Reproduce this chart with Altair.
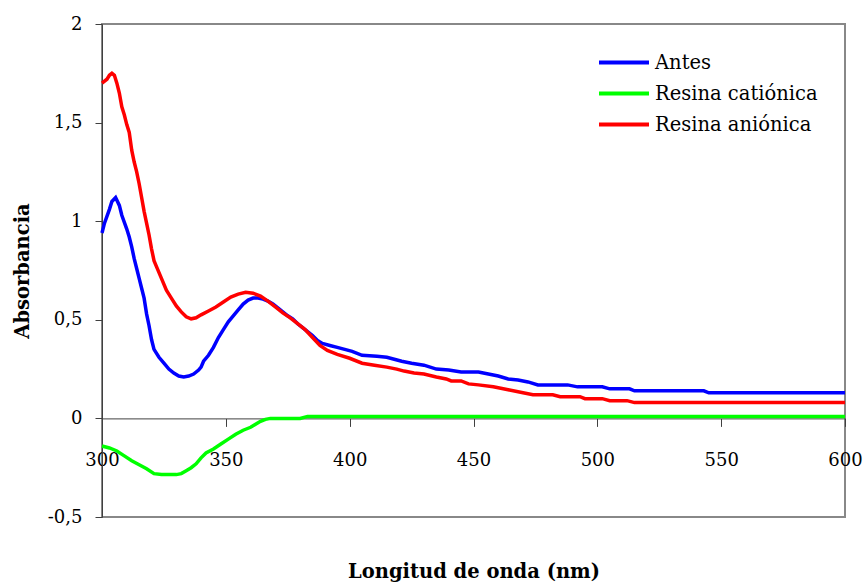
import altair as alt
import pandas as pd

# ---- data ----
antes_x = [300, 301, 303, 304, 305.5, 307, 308, 310, 311, 312, 313, 314, 315, 316, 317, 318, 319, 320, 321,
           323, 325, 327, 329, 331, 333, 335, 337, 339, 340, 341, 343, 345, 347, 349, 351, 353, 355, 357,
           359, 361, 363, 365, 367, 369, 371, 373, 375, 377, 379, 381, 383, 385, 387, 389, 392, 395, 398,
           401, 405, 411, 415, 418, 421, 425, 430, 435, 440, 445, 452, 456, 460, 464, 468, 472, 476, 480,
           488, 492, 502, 505, 513, 515, 543, 545, 600]
antes_y = [0.94, 0.99, 1.06, 1.10, 1.12, 1.08, 1.03, 0.96, 0.92, 0.87, 0.81, 0.76, 0.71, 0.66, 0.61, 0.53, 0.47,
           0.40, 0.35, 0.31, 0.28, 0.25, 0.23, 0.215, 0.21, 0.215, 0.225, 0.245, 0.26, 0.29, 0.32, 0.36,
           0.41, 0.45, 0.49, 0.52, 0.55, 0.58, 0.60, 0.61, 0.61, 0.605, 0.595, 0.58, 0.56, 0.54, 0.52,
           0.505, 0.48, 0.46, 0.44, 0.42, 0.395, 0.38, 0.37, 0.36, 0.35, 0.34, 0.32, 0.315, 0.31, 0.30,
           0.29, 0.28, 0.27, 0.25, 0.245, 0.235, 0.235, 0.225, 0.215, 0.20, 0.195, 0.185, 0.17, 0.17,
           0.17, 0.16, 0.16, 0.15, 0.15, 0.14, 0.14, 0.13, 0.13]

cat_x = [300, 303, 306, 309, 312, 315, 318, 321, 324, 330, 332, 334, 336, 338, 340, 342, 345, 348, 351, 354,
         357, 360, 362, 364, 366, 368, 380, 383, 600]
cat_y = [-0.14, -0.15, -0.165, -0.19, -0.215, -0.235, -0.255, -0.28, -0.285, -0.285, -0.28, -0.265, -0.25,
         -0.23, -0.20, -0.175, -0.155, -0.13, -0.105, -0.08, -0.06, -0.045, -0.03, -0.015, -0.005, 0.0, 0.0,
         0.01, 0.01]

an_x = [300, 302, 303, 304, 305, 306, 307, 308, 309, 310, 311, 312, 313, 314, 315, 316, 317, 318, 319, 320,
        321, 322, 324, 326, 328, 330, 332, 334, 336, 338, 340, 343, 346, 349, 352, 355, 358, 361, 364, 367,
        370, 373, 376, 379, 382, 385, 388, 391, 395, 400, 405, 410, 415, 419, 422, 426, 430, 435, 439, 441,
        445, 448, 452, 458, 464, 470, 474, 482, 485, 493, 495, 502, 505, 512, 515, 600]
an_y = [1.70, 1.72, 1.74, 1.75, 1.74, 1.70, 1.65, 1.58, 1.54, 1.49, 1.45, 1.36, 1.30, 1.25, 1.19, 1.12, 1.05,
        0.99, 0.93, 0.86, 0.80, 0.77, 0.71, 0.65, 0.61, 0.57, 0.54, 0.515, 0.505, 0.51, 0.525, 0.545, 0.565,
        0.59, 0.615, 0.63, 0.64, 0.635, 0.62, 0.595, 0.565, 0.535, 0.51, 0.48, 0.45, 0.41, 0.37, 0.345,
        0.325, 0.305, 0.28, 0.27, 0.26, 0.25, 0.24, 0.23, 0.225, 0.21, 0.20, 0.19, 0.19, 0.175, 0.17, 0.16,
        0.145, 0.13, 0.12, 0.12, 0.11, 0.11, 0.10, 0.10, 0.09, 0.09, 0.08, 0.08]

series = ["Antes", "Resina catiónica", "Resina aniónica"]
colors = ["#0000FF", "#00FF00", "#FF0000"]
x_ticks = [300, 350, 400, 450, 500, 550, 600]
y_ticks = [-0.5, 0, 0.5, 1, 1.5, 2]

rows = []
for name, xs, ys in [(series[0], antes_x, antes_y), (series[1], cat_x, cat_y), (series[2], an_x, an_y)]:
    for i, (a, b) in enumerate(zip(xs, ys)):
        rows.append({"serie": name, "nm": a, "abs": b, "i": i})
df = pd.DataFrame(rows)

W, H = 743, 493
FONT = "DejaVu Serif"
AXC = "#404040"
zero_offset = -H * 0.5 / 2.5

comma = "datum.value < 0 ? '-' + replace(toString(-datum.value), '.', ',') : replace(toString(datum.value), '.', ',')"

chart = alt.Chart(df).mark_line(strokeWidth=3.5).encode(
    x=alt.X("nm:Q",
            scale=alt.Scale(domain=[300, 600], nice=False, zero=False),
            axis=alt.Axis(values=x_ticks, offset=zero_offset, tickSize=8, tickColor=AXC,
                          domainColor=AXC, labelPadding=25, labelFont=FONT, labelFontSize=18,
                          labelColor="black", grid=False, labelFlush=False,
                          title="Longitud de onda (nm)", titleFont=FONT, titleFontSize=19.5,
                          titleFontWeight="bold", titleColor="black", titleY=153,
                          titleBaseline="middle")),
    y=alt.Y("abs:Q",
            scale=alt.Scale(domain=[-0.5, 2], nice=False, zero=False),
            axis=alt.Axis(values=y_ticks, tickSize=7, tickColor=AXC, domainColor=AXC,
                          labelPadding=13, labelFont=FONT, labelFontSize=18, labelColor="black",
                          labelExpr=comma, grid=False, labelFlush=False,
                          title="Absorbancia", titleFont=FONT, titleFontSize=19.5,
                          titleFontWeight="bold", titleColor="black", titleX=-80, titleY=H / 2,
                          titleAngle=270, titleAlign="center", titleBaseline="middle")),
    color=alt.Color("serie:N",
                    scale=alt.Scale(domain=series, range=colors),
                    legend=alt.Legend(title=None, orient="none", legendX=495, legendY=24,
                                      symbolType="stroke", symbolStrokeWidth=4, symbolSize=2500,
                                      labelFont=FONT, labelFontSize=19.5, labelColor="black",
                                      labelOffset=4, rowPadding=2, clipHeight=29, labelLimit=400)),
    order="i:Q",
).properties(
    width=W, height=H,
    background="white",
    autosize=alt.AutoSizeParams(type="none"),
    padding={"left": 102, "top": 24, "right": 19, "bottom": 68},
).configure_view(stroke="#888888", strokeWidth=2)

chart.save("out.html", embed_options={"renderer": "svg", "actions": False})
